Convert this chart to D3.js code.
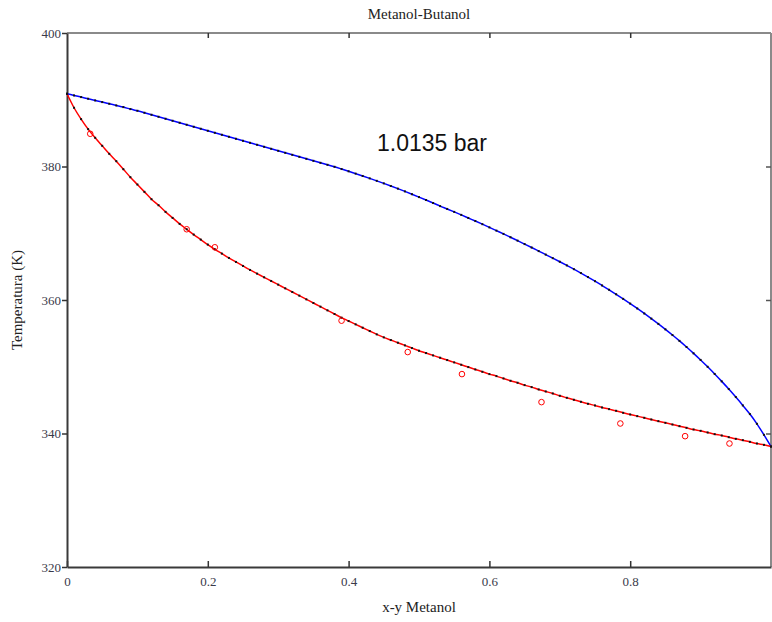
<!DOCTYPE html>
<html>
<head>
<meta charset="utf-8">
<script src="https://d3js.org/d3.v7.min.js"></script>
<style>
  body { margin: 0; background: #fff; }
</style>
</head>
<body>
<script>
// Axis ticks
const xTicks = [0, 0.2, 0.4, 0.6, 0.8];
const xTickLabels = ["0", "0.2", "0.4", "0.6", "0.8"];
const yTicks = [320, 340, 360, 380, 400];
const yTickLabels = ["320", "340", "360", "380", "400"];

// Mole fraction grid used for both curves
const frac = [
  0.00, 0.01, 0.02, 0.03, 0.04, 0.05, 0.06, 0.07, 0.08, 0.09,
  0.10, 0.11, 0.12, 0.13, 0.14, 0.15, 0.16, 0.17, 0.18, 0.19,
  0.20, 0.21, 0.22, 0.23, 0.24, 0.25, 0.26, 0.27, 0.28, 0.29,
  0.30, 0.31, 0.32, 0.33, 0.34, 0.35, 0.36, 0.37, 0.38, 0.39,
  0.40, 0.41, 0.42, 0.43, 0.44, 0.45, 0.46, 0.47, 0.48, 0.49,
  0.50, 0.51, 0.52, 0.53, 0.54, 0.55, 0.56, 0.57, 0.58, 0.59,
  0.60, 0.61, 0.62, 0.63, 0.64, 0.65, 0.66, 0.67, 0.68, 0.69,
  0.70, 0.71, 0.72, 0.73, 0.74, 0.75, 0.76, 0.77, 0.78, 0.79,
  0.80, 0.81, 0.82, 0.83, 0.84, 0.85, 0.86, 0.87, 0.88, 0.89,
  0.90, 0.91, 0.92, 0.93, 0.94, 0.95, 0.96, 0.97, 0.98, 0.99,
  1.00
];

// Bubble curve T(x), K
const bubbleT = [
  390.9, 388.8, 387.1, 385.6, 384.3, 383.1, 381.9, 380.8, 379.6, 378.4,
  377.3, 376.2, 375.1, 374.2, 373.2, 372.3, 371.4, 370.6, 369.8, 369.05,
  368.3, 367.6, 366.95, 366.3, 365.7, 365.1, 364.5, 363.95, 363.4, 362.85,
  362.3, 361.75, 361.2, 360.65, 360.1, 359.55, 359.0, 358.45, 357.9, 357.35,
  356.85, 356.35, 355.85, 355.35, 354.85, 354.4, 354.0, 353.6, 353.2, 352.8,
  352.4, 352.05, 351.7, 351.35, 351.0, 350.65, 350.3, 349.95, 349.6, 349.25,
  348.9, 348.6, 348.25, 347.9, 347.6, 347.25, 346.95, 346.6, 346.3, 346.0,
  345.65, 345.35, 345.05, 344.75, 344.45, 344.2, 343.9, 343.65, 343.4, 343.1,
  342.85, 342.6, 342.35, 342.1, 341.85, 341.6, 341.35, 341.1, 340.85, 340.6,
  340.4, 340.15, 339.9, 339.7, 339.45, 339.2, 339.0, 338.75, 338.5, 338.3,
  338.05
];

// Dew curve T(y), K
const dewT = [
  390.9, 390.65, 390.4, 390.15, 389.9, 389.65, 389.4, 389.15, 388.9, 388.6,
  388.35, 388.05, 387.75, 387.45, 387.15, 386.85, 386.55, 386.25, 385.95, 385.65,
  385.35, 385.05, 384.75, 384.45, 384.15, 383.85, 383.55, 383.25, 382.95, 382.65,
  382.35, 382.05, 381.75, 381.45, 381.15, 380.85, 380.55, 380.25, 379.95, 379.62,
  379.28, 378.93, 378.58, 378.22, 377.85, 377.47, 377.08, 376.68, 376.27, 375.85,
  375.42, 374.98, 374.53, 374.07, 373.64, 373.2, 372.75, 372.29, 371.83, 371.36,
  370.88, 370.39, 369.9, 369.4, 368.89, 368.38, 367.86, 367.33, 366.8, 366.27,
  365.73, 365.18, 364.62, 364.04, 363.44, 362.82, 362.18, 361.53, 360.86, 360.17,
  359.46, 358.73, 357.98, 357.21, 356.42, 355.6, 354.75, 353.87, 352.96, 352.01,
  351.02, 349.99, 348.92, 347.81, 346.66, 345.46, 344.21, 342.91, 341.45, 339.8,
  338.05
];

// Experimental points
const expX = [0.033, 0.170, 0.210, 0.390, 0.484, 0.561, 0.674, 0.786, 0.878, 0.941];
const expT = [384.9, 370.6, 367.9, 356.9, 352.2, 348.9, 344.7, 341.5, 339.6, 338.5];

const config = {
  width: 772,
  height: 622,
  left: 67,
  right: 771,
  top: 33,
  bottom: 567
};

const svg = d3
  .select("body")
  .append("svg")
  .attr("width", config.width)
  .attr("height", config.height);

const x = d3.scaleLinear().domain([0, 1]).range([config.left, config.right]);
const y = d3.scaleLinear().domain([320, 400]).range([config.bottom, config.top]);

const serif = "'Liberation Serif', 'Times New Roman', serif";

// Frame: top and right grey, left and bottom dark
svg.append("line")
  .attr("x1", config.left).attr("x2", config.right)
  .attr("y1", config.top).attr("y2", config.top)
  .attr("stroke", "#8a8a8a").attr("stroke-width", 2);
svg.append("line")
  .attr("x1", config.right).attr("x2", config.right)
  .attr("y1", config.top).attr("y2", config.bottom)
  .attr("stroke", "#8a8a8a").attr("stroke-width", 2);

// Bottom axis, ticks pointing up
const xAxis = svg.append("g")
  .attr("transform", `translate(0,${config.bottom})`)
  .call(d3.axisBottom(x)
    .tickValues(xTicks)
    .tickFormat((d, i) => xTickLabels[i])
    .tickSizeInner(-6)
    .tickSizeOuter(0)
    .tickPadding(10));
xAxis.select(".domain").attr("stroke", "#3a3a3a").attr("stroke-width", 2);
xAxis.selectAll(".tick line").attr("stroke", "#333").attr("stroke-width", 1.5);
xAxis.selectAll("text")
  .attr("font-family", serif)
  .attr("font-size", "13px")
  .attr("fill", "#3a3a4a");

// Top ticks pointing down
svg.append("g")
  .attr("transform", `translate(0,${config.top})`)
  .call(d3.axisTop(x)
    .tickValues(xTicks.slice(1))
    .tickSizeInner(-5)
    .tickSizeOuter(0)
    .tickFormat(""))
  .call(g => g.select(".domain").remove())
  .selectAll(".tick line").attr("stroke", "#333").attr("stroke-width", 1.5);

// Left axis, ticks pointing out
const yAxis = svg.append("g")
  .attr("transform", `translate(${config.left},0)`)
  .call(d3.axisLeft(y)
    .tickValues(yTicks)
    .tickFormat((d, i) => yTickLabels[i])
    .tickSizeInner(5)
    .tickSizeOuter(0)
    .tickPadding(1));
yAxis.select(".domain").attr("stroke", "#3a3a3a").attr("stroke-width", 2);
yAxis.selectAll(".tick line").attr("stroke", "#333").attr("stroke-width", 1.5);
yAxis.selectAll("text")
  .attr("font-family", serif)
  .attr("font-size", "13px")
  .attr("fill", "#3a3a4a");

// Right ticks pointing in
svg.append("g")
  .attr("transform", `translate(${config.right},0)`)
  .call(d3.axisRight(y)
    .tickValues(yTicks.slice(1, 4))
    .tickSizeInner(-5)
    .tickSizeOuter(0)
    .tickFormat(""))
  .call(g => g.select(".domain").remove())
  .selectAll(".tick line").attr("stroke", "#555").attr("stroke-width", 1.5);

// Titles
svg.append("text")
  .text("Metanol-Butanol")
  .attr("x", (config.left + config.right) / 2)
  .attr("y", 19)
  .attr("text-anchor", "middle")
  .attr("font-family", serif)
  .attr("font-size", "15px")
  .attr("fill", "#222");

svg.append("text")
  .text("x-y Metanol")
  .attr("x", (config.left + config.right) / 2)
  .attr("y", 612)
  .attr("text-anchor", "middle")
  .attr("font-family", serif)
  .attr("font-size", "15px")
  .attr("fill", "#222");

svg.append("text")
  .text("Temperatura (K)")
  .attr("transform", `translate(22,${(config.top + config.bottom) / 2}) rotate(-90)`)
  .attr("text-anchor", "middle")
  .attr("font-family", serif)
  .attr("font-size", "15px")
  .attr("fill", "#222");

svg.append("text")
  .text("1.0135 bar")
  .attr("x", 432)
  .attr("y", 151)
  .attr("text-anchor", "middle")
  .attr("font-family", "'Liberation Sans', Arial, sans-serif")
  .attr("font-size", "23px")
  .attr("fill", "#111");

// Curves
const bubble = frac.map((f, i) => [f, bubbleT[i]]);
const dew = frac.map((f, i) => [f, dewT[i]]);

const line = d3.line()
  .x(d => x(d[0]))
  .y(d => y(d[1]))
  .curve(d3.curveMonotoneX);

svg.append("path")
  .datum(dew)
  .attr("d", line)
  .attr("fill", "none")
  .attr("stroke", "#0000ff")
  .attr("stroke-width", 1.5);

svg.append("path")
  .datum(bubble)
  .attr("d", line)
  .attr("fill", "none")
  .attr("stroke", "#ff0000")
  .attr("stroke-width", 1.5);

// Black point markers on both curves
svg.append("g")
  .selectAll("rect")
  .data(bubble.concat(dew))
  .enter()
  .append("rect")
  .attr("x", d => x(d[0]) - 1)
  .attr("y", d => y(d[1]) - 1)
  .attr("width", 2)
  .attr("height", 2)
  .attr("fill", "#111");

// Experimental points
svg.append("g")
  .selectAll("circle")
  .data(expX.map((v, i) => [v, expT[i]]))
  .enter()
  .append("circle")
  .attr("cx", d => x(d[0]))
  .attr("cy", d => y(d[1]))
  .attr("r", 2.8)
  .attr("fill", "none")
  .attr("stroke", "#ff0000")
  .attr("stroke-width", 1);
</script>
</body>
</html>
